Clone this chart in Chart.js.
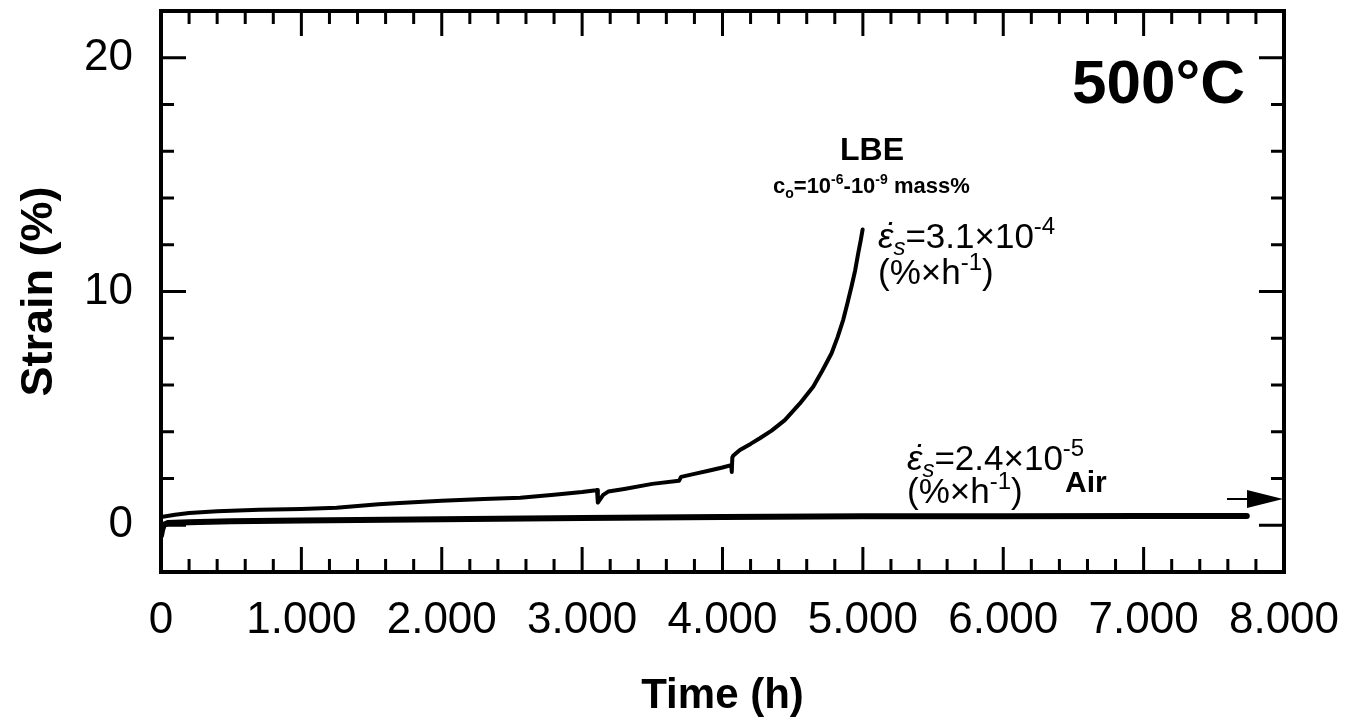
<!DOCTYPE html>
<html>
<head>
<meta charset="utf-8">
<script src="https://cdn.jsdelivr.net/npm/chart.js@4/dist/chart.umd.min.js"></script>
<style>
  html, body { margin: 0; padding: 0; background: #fff; }
  #contenedor { width: 1346px; height: 725px; }
</style>
</head>
<body>
<div id="contenedor"><canvas id="grafico-fluencia"></canvas></div>
<script>
// Ensayo de fluencia a 500°C: en aire y en LBE
const tiempoAire = [0, 8, 20, 50, 200, 500, 1000, 2000, 3000, 4000, 5000, 6000, 7000, 7735];
const deformacionAire = [-0.45, -0.2, 0.02, 0.1, 0.13, 0.17, 0.2, 0.26, 0.31, 0.35, 0.38, 0.39, 0.4, 0.4];

const tiempoLBE = [0, 100, 200, 400, 700, 1000, 1250, 1400, 1550, 1700, 2000, 2300, 2560, 2800, 3000, 3100,
  3106, 3112, 3150, 3186, 3300, 3500, 3690, 3705, 3800, 3900, 4000, 4062, 4066, 4070, 4076, 4124, 4200, 4266,
  4350, 4444, 4550, 4646, 4710, 4777, 4820, 4860, 4890, 4919, 4945, 4967, 4985, 4998];
const deformacionLBE = [0.35, 0.45, 0.52, 0.6, 0.66, 0.7, 0.75, 0.82, 0.9, 0.95, 1.05, 1.12, 1.18, 1.3, 1.42, 1.5,
  1.51, 0.97, 1.3, 1.44, 1.55, 1.77, 1.9, 2.07, 2.2, 2.33, 2.47, 2.57, 2.28, 2.9, 2.97, 3.22, 3.48, 3.72,
  4.05, 4.5, 5.2, 5.93, 6.6, 7.36, 8.05, 8.79, 9.5, 10.21, 10.9, 11.64, 12.2, 12.65];

const marcasX = [0, 1000, 2000, 3000, 4000, 5000, 6000, 7000, 8000];
const marcasY = [0, 10, 20];
const pasoMenorX = 200;
const pasoMenorY = 2;

const FUENTE = '"Liberation Sans", Arial, sans-serif';

function aPuntos(xs, ys) {
  return xs.map((t, i) => ({ x: t, y: ys[i] }));
}

function formatoMiles(v) {
  return v === 0 ? '0' : (v / 1000) + '.000';
}

function escribirPartes(ctx, x, y, partes) {
  let cx = x;
  partes.forEach(p => {
    ctx.font = p.fuente;
    ctx.fillText(p.texto, cx, y + (p.dy || 0));
    cx += ctx.measureText(p.texto).width;
  });
}

// velocidad de fluencia: épsilon con punto encima y subíndice s
function tasa(ctx, x, y, valor, exponente) {
  ctx.font = 'italic 35px ' + FUENTE;
  const ancho = ctx.measureText('ε').width;
  ctx.textAlign = 'center';
  ctx.fillText('˙', x + ancho / 2 + 3, y);
  ctx.textAlign = 'left';
  escribirPartes(ctx, x, y, [
    { texto: 'ε', fuente: 'italic 35px ' + FUENTE },
    { texto: 's', fuente: 'italic 24px ' + FUENTE, dy: 7 },
    { texto: '=' + valor + '×10', fuente: '35px ' + FUENTE },
    { texto: exponente, fuente: '24px ' + FUENTE, dy: -14 }
  ]);
}

function unidades(ctx, x, y) {
  escribirPartes(ctx, x, y, [
    { texto: '(%×h', fuente: '35px ' + FUENTE },
    { texto: '-1', fuente: '24px ' + FUENTE, dy: -14 },
    { texto: ')', fuente: '35px ' + FUENTE }
  ]);
}

// marco del gráfico con marcas hacia dentro en los cuatro lados
const marcoYMarcas = {
  id: 'marcoYMarcas',
  afterDatasetsDraw(chart) {
    const { ctx, chartArea: a, scales: { x, y } } = chart;
    ctx.save();
    ctx.strokeStyle = '#000';
    ctx.lineWidth = 3;
    ctx.beginPath();
    for (let v = x.min; v <= x.max; v += pasoMenorX) {
      const px = x.getPixelForValue(v);
      const largo = v % 1000 === 0 ? 25 : 13;
      ctx.moveTo(px, a.top); ctx.lineTo(px, a.top + largo);
      ctx.moveTo(px, a.bottom); ctx.lineTo(px, a.bottom - largo);
    }
    for (let v = 0; v <= y.max; v += pasoMenorY) {
      const py = y.getPixelForValue(v);
      const largo = v % 10 === 0 ? 25 : 13;
      ctx.moveTo(a.left, py); ctx.lineTo(a.left + largo, py);
      ctx.moveTo(a.right, py); ctx.lineTo(a.right - largo, py);
    }
    ctx.stroke();
    ctx.lineWidth = 4;
    ctx.strokeRect(a.left, a.top, a.right - a.left, a.bottom - a.top);
    ctx.restore();
  }
};

const anotaciones = {
  id: 'anotaciones',
  afterDraw(chart) {
    const ctx = chart.ctx;
    ctx.save();
    ctx.fillStyle = '#000';
    ctx.strokeStyle = '#000';
    ctx.textBaseline = 'alphabetic';
    ctx.textAlign = 'left';

    ctx.font = 'bold 62px ' + FUENTE;
    ctx.fillText('500°C', 1072, 103);

    ctx.textAlign = 'center';
    ctx.font = 'bold 32px ' + FUENTE;
    ctx.fillText('LBE', 872, 160);
    ctx.textAlign = 'left';

    escribirPartes(ctx, 773, 193, [
      { texto: 'c', fuente: 'bold 22px ' + FUENTE },
      { texto: 'o', fuente: 'bold 14px ' + FUENTE, dy: 5 },
      { texto: '=10', fuente: 'bold 22px ' + FUENTE },
      { texto: '-6', fuente: 'bold 14px ' + FUENTE, dy: -9 },
      { texto: '-10', fuente: 'bold 22px ' + FUENTE },
      { texto: '-9', fuente: 'bold 14px ' + FUENTE, dy: -9 },
      { texto: ' mass%', fuente: 'bold 22px ' + FUENTE }
    ]);

    tasa(ctx, 878, 248, '3.1', '-4');
    unidades(ctx, 878, 284);
    tasa(ctx, 907, 470, '2.4', '-5');
    unidades(ctx, 907, 503);

    ctx.font = 'bold 30px ' + FUENTE;
    ctx.fillText('Air', 1065, 492);

    // flecha: el ensayo en aire continúa
    ctx.lineWidth = 2;
    ctx.beginPath();
    ctx.moveTo(1227, 499);
    ctx.lineTo(1250, 499);
    ctx.stroke();
    ctx.beginPath();
    ctx.moveTo(1247, 490);
    ctx.lineTo(1283, 499);
    ctx.lineTo(1247, 508);
    ctx.closePath();
    ctx.fill();
    ctx.restore();
  }
};

function sinRelleno(s) {
  s.paddingTop = 0;
  s.paddingBottom = 0;
  s.paddingLeft = 0;
  s.paddingRight = 0;
}

new Chart(document.getElementById('grafico-fluencia'), {
  type: 'line',
  data: {
    datasets: [
      {
        label: 'Air',
        data: aPuntos(tiempoAire, deformacionAire),
        borderColor: '#000',
        borderWidth: 6,
        borderCapStyle: 'round',
        pointRadius: 0,
        tension: 0
      },
      {
        label: 'LBE',
        data: aPuntos(tiempoLBE, deformacionLBE),
        borderColor: '#000',
        borderWidth: 4,
        borderCapStyle: 'round',
        borderJoinStyle: 'round',
        pointRadius: 0,
        tension: 0
      }
    ]
  },
  options: {
    responsive: true,
    maintainAspectRatio: false,
    devicePixelRatio: 1,
    animation: false,
    layout: { padding: { left: 0, top: 11, right: 62, bottom: 0 } },
    plugins: {
      legend: { display: false },
      tooltip: { enabled: false }
    },
    scales: {
      x: {
        type: 'linear',
        min: 0,
        max: 8000,
        afterFit: s => { s.height = 153; sinRelleno(s); },
        afterBuildTicks: s => { s.ticks = marcasX.map(v => ({ value: v })); },
        grid: { display: false, drawTicks: false },
        border: { display: false },
        ticks: {
          autoSkip: false,
          maxRotation: 0,
          padding: 22,
          color: '#000',
          font: { family: FUENTE, size: 44 },
          callback: v => formatoMiles(v)
        },
        title: {
          display: true,
          text: 'Time (h)',
          color: '#000',
          font: { family: FUENTE, size: 42, weight: 'bold' },
          padding: { top: 0, bottom: 3 }
        }
      },
      y: {
        type: 'linear',
        min: -2,
        max: 22,
        afterFit: s => { s.width = 161; sinRelleno(s); },
        afterBuildTicks: s => { s.ticks = marcasY.map(v => ({ value: v })); },
        grid: { display: false, drawTicks: false },
        border: { display: false },
        ticks: {
          autoSkip: false,
          padding: 28,
          color: '#000',
          font: { family: FUENTE, size: 44 }
        },
        title: {
          display: true,
          text: 'Strain (%)',
          color: '#000',
          font: { family: FUENTE, size: 45, weight: 'bold' },
          padding: { top: 13, bottom: 0 }
        }
      }
    }
  },
  plugins: [marcoYMarcas, anotaciones]
});
</script>
</body>
</html>
